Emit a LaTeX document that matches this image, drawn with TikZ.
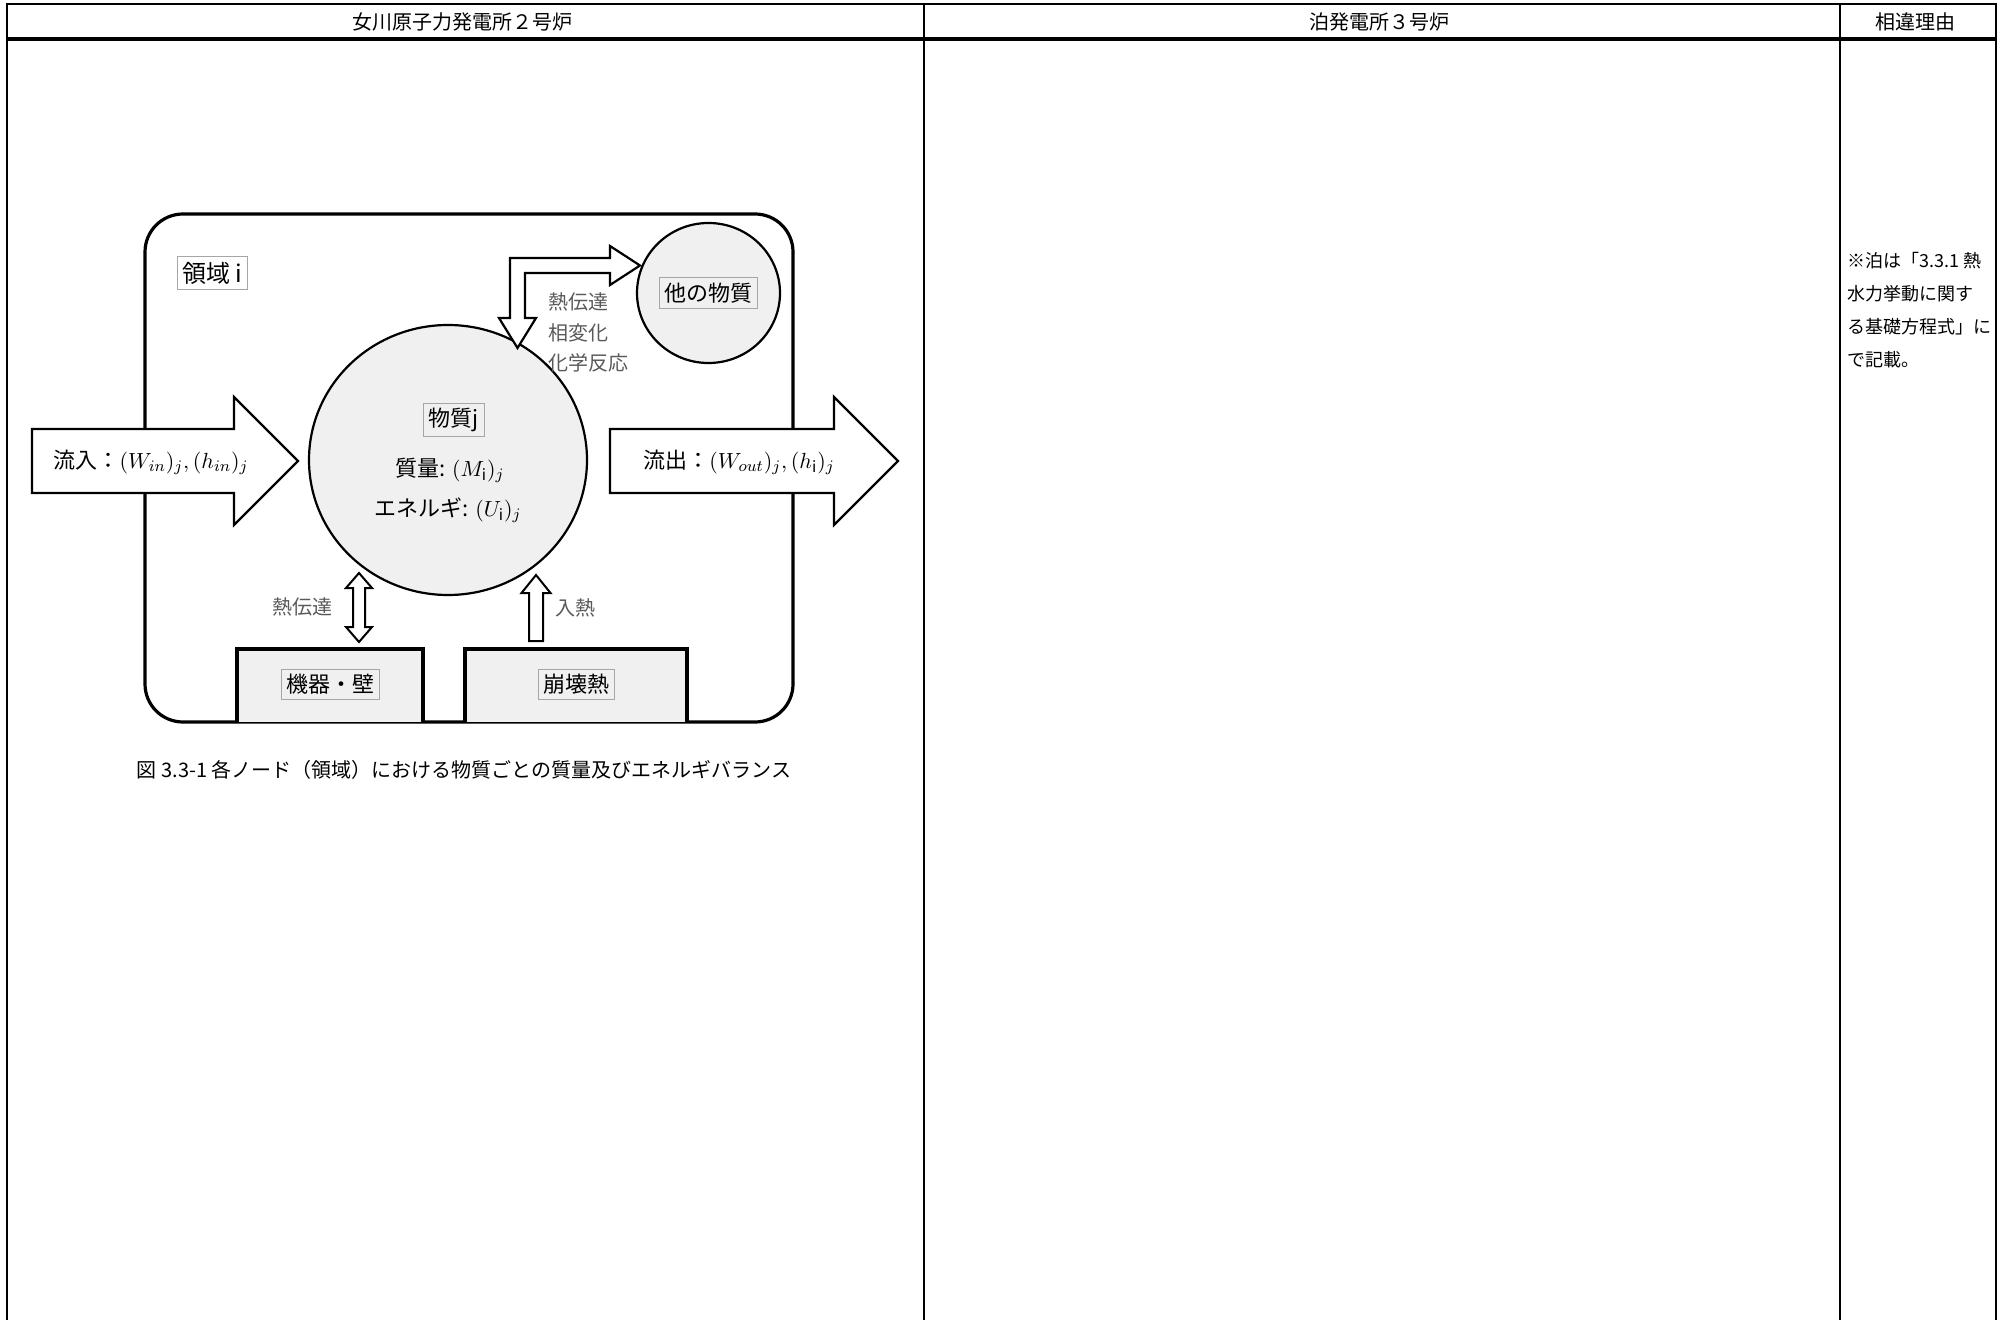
\documentclass[tikz,border=0pt]{standalone}
\usepackage{fontspec}
\setmainfont{Noto Sans CJK JP}
\usetikzlibrary{calc}

\begin{document}
\begin{tikzpicture}[x=0.5pt,y=-0.5pt,
  edge/.style={line width=1.2pt},
  thinedge/.style={line width=0.8pt},
  hdr/.style={inner sep=0pt,font=\fontsize{10}{12}\selectfont},
  blockarrow/.style={draw,line width=1.1pt,fill=white,line join=miter},
  matter/.style={draw,line width=1.1pt,fill=gray!12},
  tag/.style={draw=gray!70,line width=0.5pt,fill=gray!12,inner sep=2.5pt,font=\fontsize{11}{13}\selectfont},
  lbl/.style={inner sep=0pt,font=\fontsize{11}{13}\selectfont},
  graylbl/.style={inner sep=0pt,text=black!65,font=\fontsize{10}{12}\selectfont}]

\useasboundingbox (0,0) rectangle (2006,1320);

% table frame
\draw[edge] (7,1320) -- (7,4) -- (1996,4) -- (1996,1320);
\draw[line width=1.7pt] (7,39) -- (1996,39);
\draw[thinedge] (924,4) -- (924,1320);
\draw[edge] (1840,4) -- (1840,1320);

\node[hdr] (hdOnagawa) at (462,22) {女川原子力発電所２号炉};
\node[hdr] (hdTomari) at (1379,22) {泊発電所３号炉};
\node[hdr] (hdReason) at (1915,22) {相違理由};

\node[hdr,anchor=north west,align=left,font=\fontsize{9}{16.5}\selectfont] (reason) at (1847,252)
  {※泊は「3.3.1 熱\\水力挙動に関す\\る基礎方程式」に\\で記載。};

% region i
\draw[line width=1.6pt,rounded corners=19pt] (145,214) rectangle (793,722);
\node[tag,fill=white,font=\fontsize{12}{14}\selectfont] (regionTag) at (212.5,273) {領域 $\mathrm{i}$};

% bottom boxes
\draw[line width=1.6pt,fill=gray!12] (237,722) -- (237,649) -- (423,649) -- (423,722);
\draw[line width=1.6pt,fill=gray!12] (465,722) -- (465,649) -- (687,649) -- (687,722);
\node[tag] (wallTag) at (330,684.5) {機器・壁};
\node[tag] (decayTag) at (576,684.5) {崩壊熱};

% matter j and other matter
\draw[matter] (448,460) ellipse (139 and 135);
\draw[matter] (708.5,293) ellipse (71.5 and 70);
\node[tag] (matterTag) at (454,420) {物質$\mathrm{j}$};
\node[tag] (otherTag) at (708.5,293) {他の物質};
\node[lbl] (mass) at (450,470) {質量: $(M_{\mathrm{i}})_j$};
\node[lbl] (energy) at (448,510) {エネルギ: $(U_{\mathrm{i}})_j$};

% inflow / outflow
\draw[blockarrow] (32,429) -- (234,429) -- (234,397) -- (298,461) -- (234,525) -- (234,493) -- (32,493) -- cycle;
\draw[blockarrow] (610,429) -- (834,429) -- (834,397) -- (898,461) -- (834,525) -- (834,493) -- (610,493) -- cycle;
\node[lbl] (inflow) at (151,462) {流入：$(W_{in})_j,(h_{in})_j$};
\node[lbl] (outflow) at (739,462) {流出：$(W_{out})_j,(h_{\mathrm{i}})_j$};

% exchange with other matter
\draw[blockarrow] (510,318) -- (510,258) -- (610,258) -- (610,246) -- (640,265.5) -- (610,285)
  -- (610,273) -- (525,273) -- (525,318) -- (536,318) -- (517.5,348) -- (499,318) -- cycle;
\node[graylbl,anchor=west] (heatA) at (548,302) {熱伝達};
\node[graylbl,anchor=west] (phase) at (548,333) {相変化};
\node[graylbl,anchor=west] (chem) at (548,363) {化学反応};

% wall heat transfer, decay heat
\draw[blockarrow,line width=1pt] (359,573) -- (372,588) -- (365,588) -- (365,627) -- (372,627) -- (359,642)
  -- (346,627) -- (353,627) -- (353,588) -- (346,588) -- cycle;
\draw[blockarrow,line width=1pt] (536,575) -- (550.5,593) -- (543,593) -- (543,641) -- (529,641)
  -- (529,593) -- (521.5,593) -- cycle;
\node[graylbl] (heatB) at (302,607) {熱伝達};
\node[graylbl] (heatIn) at (575,608) {入熱};

\node[hdr] (caption) at (464,770) {図 3.3-1 各ノード（領域）における物質ごとの質量及びエネルギバランス};

\end{tikzpicture}
\end{document}
